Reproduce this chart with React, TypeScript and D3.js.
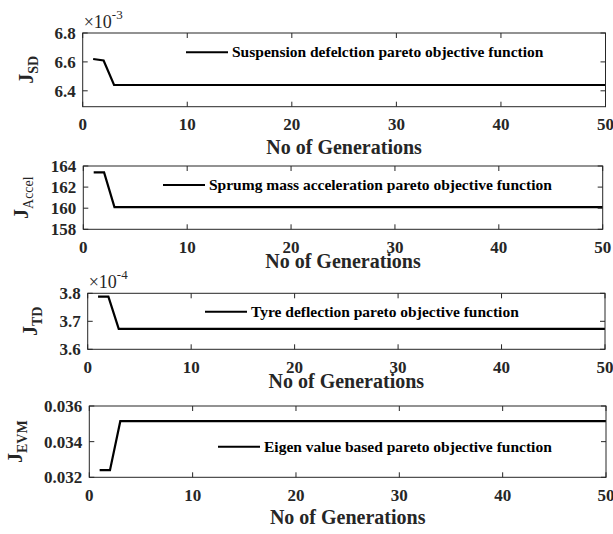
import * as d3 from "d3";

// generations where the pareto objective changes (constant afterwards)
const generations = [1, 2, 3, 50];

const suspensionDefl = [6.62e-3, 6.61e-3, 6.44e-3, 6.44e-3];
const sprungAccel = [163.4, 163.4, 160.1, 160.1];
const tyreDefl = [3.788e-4, 3.788e-4, 3.673e-4, 3.673e-4];
const eigenEvm = [0.0324, 0.0324, 0.03515, 0.03515];

const xTicks = [0, 10, 20, 30, 40, 50];
const sdTicks = [6.4, 6.6, 6.8];
const accelTicks = [158, 160, 162, 164];
const tdTicks = [3.6, 3.7, 3.8];
const evmTicks = [0.032, 0.034, 0.036];

const legendLabels = [
  "Suspension defelction pareto objective function",
  "Sprumg mass acceleration pareto objective function",
  "Tyre deflection pareto objective function",
  "Eigen value based pareto objective function",
];

const xLabel = "No of Generations";
const font = "'Liberation Serif', 'Times New Roman', serif";
const axisColor = "#262626";

interface Panel {
  values: number[];
  ticks: number[];
  scaleExp: number; // values shown as value / 10^scaleExp
  domain: [number, number];
  tickFormat: (v: number) => string;
  ylab: string;
  ysub: string;
  subBold: boolean;
  legend: string;
  box: { left: number; right: number; top: number; bottom: number };
  ylabX: number;
  xlabGap: number;
  legendX: number;
  legendY: number;
}

const panels: Panel[] = [
  {
    values: suspensionDefl,
    ticks: sdTicks,
    scaleExp: -3,
    domain: [6.29, 6.8],
    tickFormat: (v) => v.toFixed(1),
    ylab: "J",
    ysub: "SD",
    subBold: true,
    legend: legendLabels[0],
    box: { left: 82.7, right: 605.5, top: 33, bottom: 106.7 },
    ylabX: 33,
    xlabGap: 47,
    legendX: 186,
    legendY: 52.3,
  },
  {
    values: sprungAccel,
    ticks: accelTicks,
    scaleExp: 0,
    domain: [158, 164],
    tickFormat: (v) => String(v),
    ylab: "J",
    ysub: "Accel",
    subBold: false,
    legend: legendLabels[1],
    box: { left: 83.3, right: 602.7, top: 166, bottom: 229.3 },
    ylabX: 28,
    xlabGap: 38.7,
    legendX: 163,
    legendY: 185,
  },
  {
    values: tyreDefl,
    ticks: tdTicks,
    scaleExp: -4,
    domain: [3.6, 3.8],
    tickFormat: (v) => v.toFixed(1),
    ylab: "J",
    ysub: "TD",
    subBold: true,
    legend: legendLabels[2],
    box: { left: 87.7, right: 605, top: 293.3, bottom: 349.3 },
    ylabX: 37,
    xlabGap: 38.7,
    legendX: 205,
    legendY: 311.7,
  },
  {
    values: eigenEvm,
    ticks: evmTicks,
    scaleExp: 0,
    domain: [0.032, 0.036],
    tickFormat: (v) => v.toFixed(3),
    ylab: "J",
    ysub: "EVM",
    subBold: true,
    legend: legendLabels[3],
    box: { left: 89.3, right: 606, top: 406, bottom: 477.3 },
    ylabX: 22,
    xlabGap: 46.7,
    legendX: 218,
    legendY: 446.7,
  },
];

function PanelPlot({ p }: { p: Panel }) {
  const { left, right, top, bottom } = p.box;
  const x = d3.scaleLinear().domain([0, 50]).range([left, right]);
  const y = d3.scaleLinear().domain(p.domain).range([bottom, top]);
  const k = Math.pow(10, -p.scaleExp);
  const pts: [number, number][] = generations.map((g, i) => [g, p.values[i] * k]);
  const line = d3
    .line<[number, number]>()
    .x((d) => x(d[0]))
    .y((d) => y(d[1]));
  const tl = 5;
  const cy = (top + bottom) / 2;

  return (
    <g fontFamily={font} fontWeight="bold">
      <path d={line(pts)!} fill="none" stroke="#000" strokeWidth={2.2} />
      <rect
        x={left}
        y={top}
        width={right - left}
        height={bottom - top}
        fill="none"
        stroke={axisColor}
        strokeWidth={1}
      />
      {xTicks.map((t) => (
        <g key={`x${t}`}>
          <line x1={x(t)} x2={x(t)} y1={bottom} y2={bottom - tl} stroke={axisColor} />
          <line x1={x(t)} x2={x(t)} y1={top} y2={top + tl} stroke={axisColor} />
          <text x={x(t)} y={bottom + 23.5} textAnchor="middle" fontSize={17} fill={axisColor}>
            {t}
          </text>
        </g>
      ))}
      {p.ticks.map((t) => (
        <g key={`y${t}`}>
          <line x1={left} x2={left + tl} y1={y(t)} y2={y(t)} stroke={axisColor} />
          <line x1={right} x2={right - tl} y1={y(t)} y2={y(t)} stroke={axisColor} />
          <text
            x={left - 7}
            y={y(t)}
            dy="0.35em"
            textAnchor="end"
            fontSize={17}
            fill={axisColor}
          >
            {p.tickFormat(t)}
          </text>
        </g>
      ))}
      {p.scaleExp !== 0 && (
        <text x={left + 1} y={top - 5} fontSize={18} fontWeight="normal" fill={axisColor}>
          ×10
          <tspan dy={-9} fontSize={13}>
            {p.scaleExp}
          </tspan>
        </text>
      )}
      <text
        x={(left + right) / 2}
        y={bottom + p.xlabGap}
        textAnchor="middle"
        fontSize={20}
        fill={axisColor}
      >
        {xLabel}
      </text>
      <text
        transform={`translate(${p.ylabX},${cy}) rotate(-90)`}
        textAnchor="middle"
        fontSize={20}
        fill={axisColor}
      >
        {p.ylab}
        <tspan dy={5} fontSize={14} fontWeight={p.subBold ? "bold" : "normal"}>
          {p.ysub}
        </tspan>
      </text>
      <line
        x1={p.legendX}
        x2={p.legendX + 42}
        y1={p.legendY}
        y2={p.legendY}
        stroke="#000"
        strokeWidth={2}
      />
      <text x={p.legendX + 46} y={p.legendY} dy="0.33em" fontSize={15.5} fill="#000">
        {p.legend}
      </text>
    </g>
  );
}

export default function App() {
  return (
    <div style={{ position: "absolute", left: 0, top: 0 }}>
      <svg width={613} height={534} viewBox="0 0 613 534" style={{ display: "block", background: "#fff" }}>
        {panels.map((p, i) => (
          <PanelPlot key={i} p={p} />
        ))}
      </svg>
    </div>
  );
}
